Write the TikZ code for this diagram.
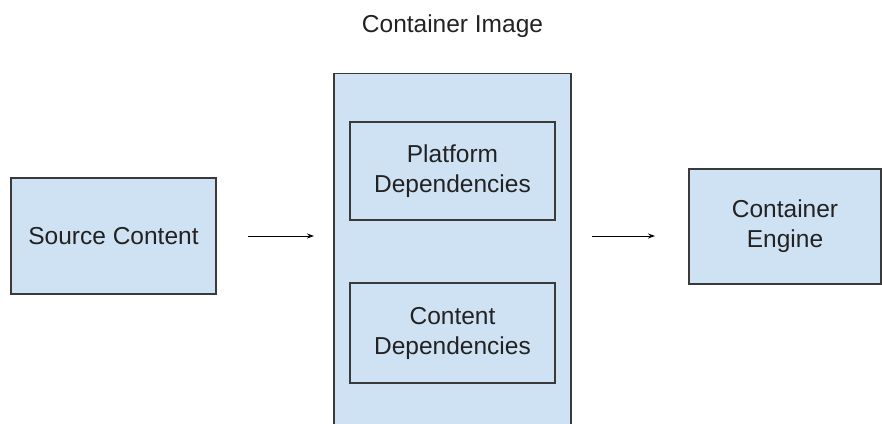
\documentclass[tikz,border=0pt]{standalone}
\usepackage{fontspec}
\setmainfont{Liberation Sans}
\usetikzlibrary{arrows.meta}
\definecolor{boxfill}{HTML}{CFE2F3}
\definecolor{boxline}{HTML}{3A3A3A}
\definecolor{txt}{HTML}{222222}
\tikzset{
  box/.style={draw=boxline, fill=boxfill, line width=1.2pt, inner sep=0pt,
    align=center, text=txt, font=\fontsize{24.5}{30}\selectfont},
  flow/.style={draw=black, line width=1pt, -{Stealth[length=7pt,width=5pt]}},
  title/.style={text=txt, font=\fontsize{24.5}{30}\selectfont, inner sep=0pt}
}
\begin{document}
\begin{tikzpicture}[x=1pt,y=-1pt]
\useasboundingbox (0,0) rectangle (882,423);
\begin{scope}
\clip (0,0) rectangle (882,423);
\node[box, anchor=north, minimum width=237pt, minimum height=380pt] (img) at (452.5,73) {};
\end{scope}
\node[title, anchor=base] (imgtitle) at (452.5,32) {Container Image};
\node[box, minimum width=205pt, minimum height=116pt] (src) at (113.5,236) {Source Content};
\node[box, minimum width=205pt, minimum height=98pt] (plat) at (452.5,171) {Platform\\Dependencies};
\node[box, minimum width=205pt, minimum height=100pt] (cont) at (452.5,333) {Content\\Dependencies};
\node[box, minimum width=192pt, minimum height=115pt] (eng) at (785,226.5) {Container\\Engine};
\coordinate (a1s) at (248,236);
\coordinate (a1e) at (314,236);
\coordinate (a2s) at (592,236);
\coordinate (a2e) at (655,236);
\draw[flow] (a1s) -- (a1e);
\draw[flow] (a2s) -- (a2e);
\end{tikzpicture}
\end{document}
